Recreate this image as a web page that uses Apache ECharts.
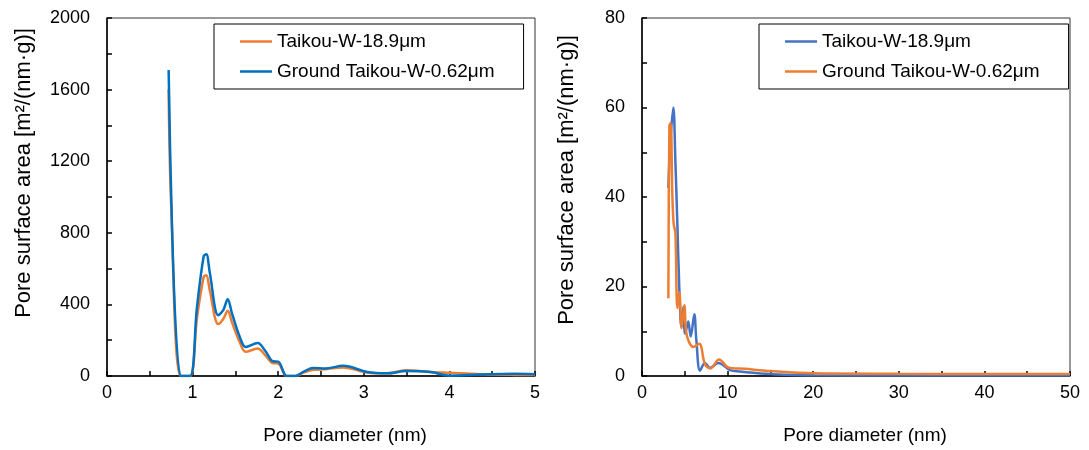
<!DOCTYPE html>
<html>
<head>
<meta charset="utf-8">
<script src="https://cdn.jsdelivr.net/npm/echarts@6/dist/echarts.min.js"></script>
<style>
  html, body { margin: 0; padding: 0; background: #fff; }
  #chart { width: 1089px; height: 450px; }
</style>
</head>
<body>
<div id="chart"></div>
<script>
// Series names
const nameCoarse = 'Taikou-W-18.9μm';
const nameGround = 'Ground Taikou-W-0.62μm';

// Left panel: pore diameter 0–5 nm, [diameter, surface area]
const leftCoarse = [
  [0.72, 1600], [0.75, 950], [0.86, 0], [0.97, 0], [1.05, 320], [1.13, 555], [1.16, 563],
  [1.2, 480], [1.3, 290], [1.36, 320], [1.41, 364], [1.46, 300], [1.55, 190], [1.62, 135],
  [1.76, 154], [1.85, 115], [1.94, 72], [2.0, 70], [2.1, 0], [2.2, 0], [2.3, 20], [2.41, 35],
  [2.55, 38], [2.76, 48], [3.04, 20], [3.28, 15], [3.49, 32], [3.78, 23], [4.0, 18],
  [4.37, 10], [4.76, 6], [5.0, 5]
];
const leftGround = [
  [0.72, 1710], [0.86, 0], [0.97, 0], [1.05, 380], [1.13, 670], [1.16, 680], [1.2, 580],
  [1.3, 340], [1.36, 370], [1.41, 429], [1.46, 350], [1.55, 220], [1.62, 162], [1.76, 184],
  [1.85, 140], [1.94, 82], [2.0, 80], [2.1, 0], [2.2, 0], [2.3, 25], [2.41, 45], [2.55, 42],
  [2.76, 57], [3.04, 22], [3.28, 15], [3.49, 28], [3.78, 22], [4.0, 2], [4.37, 8],
  [4.76, 12], [5.0, 10]
];

// Right panel: pore diameter 0–50 nm
const rightCoarse = [
  [3.08, 42], [3.3, 52], [3.66, 60], [3.9, 48], [4.13, 34], [4.36, 19.5], [4.6, 11],
  [4.83, 15.5], [5.02, 9.5], [5.25, 11], [5.41, 12.2], [5.69, 8.8], [6.11, 13.8], [6.35, 8],
  [6.78, 1.2], [7.36, 2.9], [7.94, 1.8], [8.92, 2.9], [10.3, 1.3], [11.4, 1.0], [13, 0.7],
  [15.3, 0.4], [20, 0.15], [30, 0.1], [40, 0.1], [50, 0.1]
];
const rightGround = [
  [3.08, 17.4], [3.2, 56], [3.35, 56.5], [3.55, 40], [3.7, 34], [3.9, 32], [4.13, 15.2],
  [4.36, 18.7], [4.63, 10.7], [4.95, 15.8], [5.22, 9.2], [6.0, 6.5], [6.7, 7.2], [7.36, 2.6],
  [8.0, 1.7], [9.0, 3.7], [10.1, 1.9], [12, 1.6], [15, 1.1], [20, 0.6], [30, 0.5],
  [40, 0.45], [50, 0.45]
];

// Axis ranges and label steps
const leftX = { min: 0, max: 5, tick: 0.5, label: 1 };
const leftY = { min: 0, max: 2000, tick: 200, label: 400 };
const rightX = { min: 0, max: 50, tick: 5, label: 10 };
const rightY = { min: 0, max: 80, tick: 10, label: 20 };
const xTitle = 'Pore diameter (nm)';
const yTitle = 'Pore surface area [m²/(nm·g)]';

const ORANGE = '#ED7D31';
const BLUE_L = '#0070C0';
const BLUE_R = '#4472C4';
const FONT = 'Liberation Sans, Arial, sans-serif';

function every(step) {
  return function (v) {
    const r = v / step;
    return Math.abs(r - Math.round(r)) < 1e-6 ? String(Math.round(v * 100) / 100) : '';
  };
}

// shift: leading padding that nudges the title to the right of the axis centre
function xAxis(gridIndex, r, shift) {
  return {
    type: 'value', gridIndex, min: r.min, max: r.max, interval: r.tick,
    name: xTitle, nameLocation: 'middle', nameGap: 50,
    nameTextStyle: { color: '#000', fontSize: 19, fontFamily: FONT, padding: [0, 0, 0, shift] },
    axisLine: { show: true, lineStyle: { color: '#000', width: 1.5 } },
    axisTick: { show: true, inside: true, length: 5, lineStyle: { color: '#000', width: 1.5 } },
    axisLabel: { color: '#000', fontSize: 18, fontFamily: FONT, margin: 8, formatter: every(r.label) },
    splitLine: { show: false }
  };
}

// shift: extra leading padding that moves the rotated title up along the axis
function yAxis(gridIndex, r, gap, shift) {
  return {
    type: 'value', gridIndex, min: r.min, max: r.max, interval: r.tick,
    name: yTitle, nameLocation: 'middle', nameGap: gap,
    nameTextStyle: { color: '#000', fontSize: 22, fontFamily: FONT, padding: [0, 0, 0, shift] },
    axisLine: { show: true, lineStyle: { color: '#000', width: 1.5 } },
    axisTick: { show: true, inside: true, length: 5, lineStyle: { color: '#000', width: 1.5 } },
    axisLabel: { color: '#000', fontSize: 18, fontFamily: FONT, margin: 17, formatter: every(r.label) },
    splitLine: { show: false }
  };
}

function line(name, data, color, xi) {
  return {
    type: 'line', name, data, xAxisIndex: xi, yAxisIndex: xi,
    smooth: 0.35, symbol: 'none', clip: true,
    lineStyle: { color, width: 2.5 }, itemStyle: { color }
  };
}

function legend(left, items) {
  return {
    left, top: 24, orient: 'vertical', selectedMode: false,
    backgroundColor: '#fff', borderColor: '#000', borderWidth: 1,
    padding: [8, 29, 8, 26], itemGap: 11, itemWidth: 32, itemHeight: 2.5,
    icon: 'rect',
    textStyle: { color: '#000', fontSize: 19, fontFamily: FONT },
    data: items.map(([name, color]) => ({
      name, icon: 'rect', itemStyle: { color, borderWidth: 0 }
    }))
  };
}

const chart = echarts.init(document.getElementById('chart'), null, { renderer: 'canvas' });
chart.setOption({
  animation: false,
  backgroundColor: '#fff',
  grid: [
    { left: 107, top: 18, width: 428, height: 359, show: true, borderColor: '#333', borderWidth: 1 },
    { left: 642, top: 18, width: 428, height: 358, show: true, borderColor: '#333', borderWidth: 1 }
  ],
  legend: [
    legend(214, [[nameCoarse, ORANGE], [nameGround, BLUE_L]]),
    legend(759, [[nameCoarse, BLUE_R], [nameGround, ORANGE]])
  ],
  xAxis: [xAxis(0, leftX, 48), xAxis(1, rightX, 18)],
  yAxis: [yAxis(0, leftY, 72, 48), yAxis(1, rightY, 64, 34)],
  series: [
    line(nameCoarse, leftCoarse, ORANGE, 0),
    line(nameGround, leftGround, BLUE_L, 0),
    line(nameCoarse, rightCoarse, BLUE_R, 1),
    line(nameGround, rightGround, ORANGE, 1)
  ]
});
</script>
</body>
</html>
